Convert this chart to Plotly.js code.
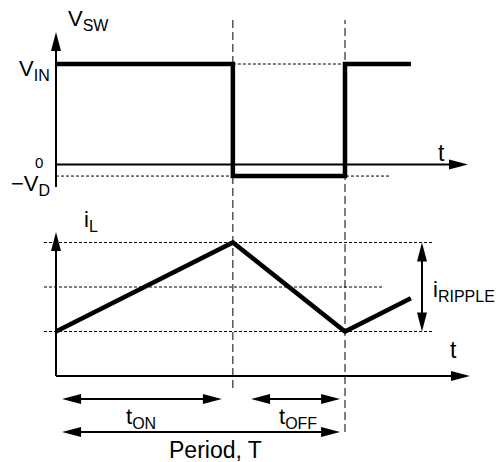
<!DOCTYPE html>
<html>
<head>
<meta charset="utf-8">
<script src="https://cdn.plot.ly/plotly-3.0.1.min.js"></script>
<style>html,body{margin:0;padding:0;background:#fff;}#chart{width:499px;height:462px;}</style>
</head>
<body>
<div id="chart"></div>
<script>
// ---- data (time in units of the period T) ----
const vswTime  = [0, 0.612, 0.612, 1.0, 1.0, 1.228];
const vswValue = [1, 1, -0.115, -0.115, 1, 1];          // V_IN = 1, -V_D = -0.115
const iLTime   = [0, 0.612, 1.0, 1.228];
const iLValue  = [0.5, 1.5, 0.5, 0.873];                 // valley, peak, valley, ...
const vLevels  = [1, 0, -0.115];                         // V_IN, 0, -V_D
const iLevels  = [1.5, 1.0, 0.5];                        // peak, average, valley
const edgeTimes = [0.612, 1.0];                          // end of t_ON, end of period
const SUB = s => '<sub><span style="font-size:16px">' + s + '</span></sub>';
const spanLabels = ['t' + SUB('ON'), 't' + SUB('OFF'), 'Period, T'];
const levelLabels = ['V' + SUB('IN'), '0', '\u2212V' + SUB('D')];

// ---- geometry ----
const W = 499, H = 462;
const pxPerT = 289, x0px = 56;
const topZeroPx = 164.5, pxPerV = 100.5;
const botZeroPx = 376, pxPerI = 89;
const splitPx = 200;
const xRange = [-x0px / pxPerT, (W - x0px) / pxPerT];
const yTopRange = [(topZeroPx - splitPx) / pxPerV, topZeroPx / pxPerV];
const yBotRange = [(botZeroPx - H) / pxPerI, (botZeroPx - splitPx) / pxPerI];
const split = 1 - splitPx / H;

const BLACK = '#000';
const traces = [];
function line(x, y, ax, width, dash) {
  traces.push({x: x, y: y, yaxis: ax, mode: 'lines', hoverinfo: 'skip',
    line: {color: BLACK, width: width, dash: dash || 'solid'}});
}
const HL = 19, HW = 5;
function head(x, y, dir, ax) {
  const pv = ax === 'y' ? pxPerV : pxPerI;
  const lx = HL / pxPerT, wx = HW / pxPerT, ly = HL / pv, wy = HW / pv;
  let xs, ys;
  if (dir === 'right') { xs = [x, x - lx, x - lx, x]; ys = [y, y + wy, y - wy, y]; }
  if (dir === 'left')  { xs = [x, x + lx, x + lx, x]; ys = [y, y + wy, y - wy, y]; }
  if (dir === 'up')    { xs = [x, x - wx, x + wx, x]; ys = [y, y - ly, y - ly, y]; }
  if (dir === 'down')  { xs = [x, x - wx, x + wx, x]; ys = [y, y + ly, y + ly, y]; }
  traces.push({x: xs, y: ys, yaxis: ax, mode: 'lines', fill: 'toself', fillcolor: BLACK,
    hoverinfo: 'skip', line: {width: 0, color: BLACK}});
}
function hArrow(x1, x2, y, ax, both) {
  const inset = HL * 0.6 / pxPerT;
  line([both ? x1 + inset : x1, x2 - inset], [y, y], ax, 2);
  head(x2, y, 'right', ax);
  if (both) head(x1, y, 'left', ax);
}
function vArrow(x, y1, y2, ax, both) {
  const pv = ax === 'y' ? pxPerV : pxPerI;
  const inset = HL * 0.6 / pv;
  line([x, x], [both ? y1 + inset : y1, y2 - inset], ax, 2);
  head(x, y2, 'up', ax);
  if (both) head(x, y1, 'down', ax);
}

const dot = '3px,2px';
const tOn = edgeTimes[0], T = edgeTimes[1];
const VIN = vLevels[0], VD = vLevels[2];
const iPk = iLevels[0], iAvg = iLevels[1], iVal = iLevels[2];

// ---- top panel: V_SW ----
line([tOn, T], [VIN, VIN], 'y', 1, dot);
line([0, 1.156], [VD, VD], 'y', 1, dot);
vArrow(0, -0.224, 1.318, 'y', false);
hArrow(0, 1.4256, 0, 'y', false);
line(vswTime, vswValue, 'y', 4.5);

// ---- bottom panel: i_L ----
line([-0.0415, 1.308], [iPk, iPk], 'y2', 1, dot);
line([-0.0415, 1.135], [iAvg, iAvg], 'y2', 1, dot);
line([-0.0415, 1.308], [iVal, iVal], 'y2', 1, dot);
vArrow(0, 0, 1.618, 'y2', false);
hArrow(0, 1.4325, 0, 'y2', false);
vArrow(1.2664, iVal, iPk, 'y2', true);
line(iLTime, iLValue, 'y2', 4.5);

// time spans
const spanY = [-0.258, -0.258, -0.629];
const spanX = [[0.021, 0.574], [0.675, 0.983], [0.021, 0.983]];
spanX.forEach((s, i) => hArrow(s[0], s[1], spanY[i], 'y2', true));

// ---- text ----
const FONT = 'Liberation Sans, Arial, sans-serif';
function P(px, py) { return {x: px / W, y: 1 - py / H}; }
function label(text, px, py, xa, size) {
  const p = P(px, py);
  return {text: text, x: p.x, y: p.y, xref: 'paper', yref: 'paper', showarrow: false,
    xanchor: xa, yanchor: 'middle', font: {family: FONT, size: size || 22, color: BLACK}};
}
const annotations = [
  label('V' + SUB('SW'), 66, 20, 'left'),
  label(levelLabels[0], 52, 70, 'right'),
  label(levelLabels[1], 45, 162, 'right', 15),
  label(levelLabels[2], 52, 185, 'right'),
  label('t', 436, 153, 'left', 23),
  label('i' + SUB('L'), 82, 221, 'left'),
  label('i' + SUB('RIPPLE'), 431, 291, 'left'),
  label('t', 448, 350, 'left', 23),
  label(spanLabels[0], 141, 418, 'center'),
  label(spanLabels[1], 298, 418, 'center'),
  label(spanLabels[2], 215, 450, 'center', 23)
];

const shapes = edgeTimes.map((t, i) => ({
  type: 'line', xref: 'x', yref: 'paper', x0: t, x1: t,
  y0: 1 - (i === 0 ? 388 : 432) / H, y1: 1 - 20 / H,
  line: {color: BLACK, width: 1, dash: '8px,4px'}, layer: 'below'
}));

const layout = {
  width: W, height: H, autosize: false,
  margin: {l: 0, r: 0, t: 0, b: 0, pad: 0},
  paper_bgcolor: '#fff', plot_bgcolor: 'rgba(0,0,0,0)',
  showlegend: false,
  xaxis: {range: xRange, visible: false, fixedrange: true, anchor: 'y2'},
  yaxis: {domain: [split, 1], range: yTopRange, visible: false, fixedrange: true, anchor: 'x'},
  yaxis2: {domain: [0, split], range: yBotRange, visible: false, fixedrange: true, anchor: 'x'},
  annotations: annotations,
  shapes: shapes
};
Plotly.newPlot('chart', traces, layout, {displayModeBar: false, staticPlot: true});
</script>
</body>
</html>
